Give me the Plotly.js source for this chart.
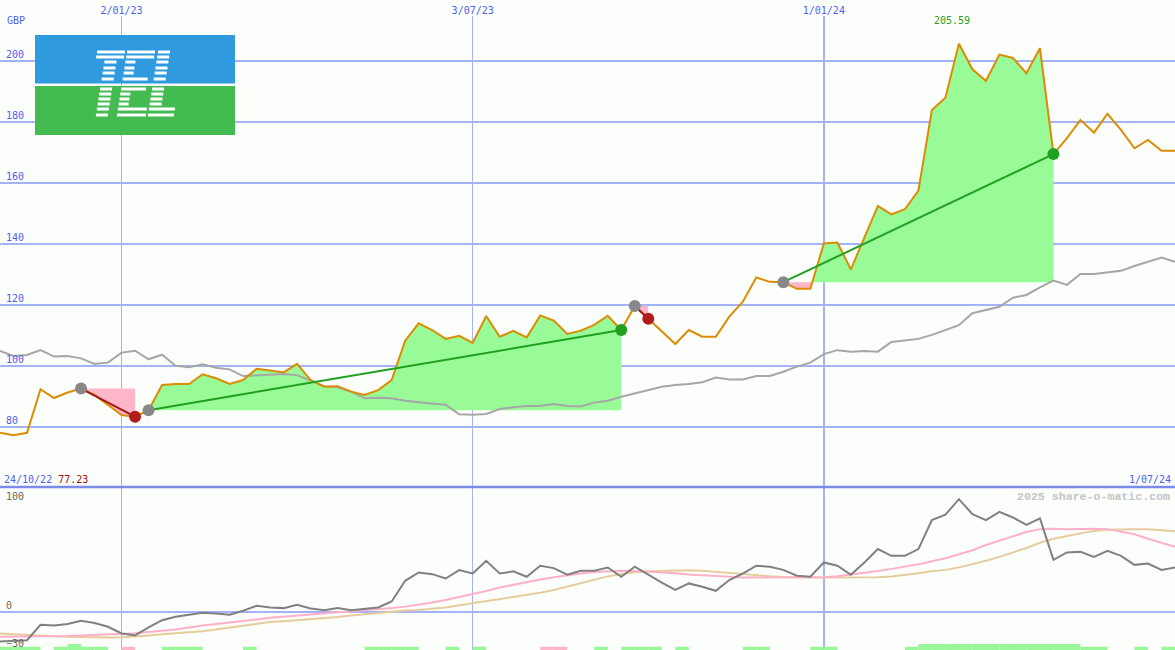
<!DOCTYPE html>
<html><head><meta charset="utf-8">
<script src="https://cdn.plot.ly/plotly-3.0.1.min.js"></script>
<style>html,body{margin:0;padding:0;background:#fcfefc}</style>
</head><body><div id="chart" style="width:1175px;height:650px"></div>
<script>
// ---------- DATA ----------
const weeks = ['2022-10-31','2022-11-07','2022-11-14','2022-11-21','2022-11-28','2022-12-05','2022-12-12','2022-12-19','2022-12-26',
'2023-01-02','2023-01-09','2023-01-16','2023-01-23','2023-01-30','2023-02-06','2023-02-13','2023-02-20','2023-02-27',
'2023-03-06','2023-03-13','2023-03-20','2023-03-27','2023-04-03','2023-04-10','2023-04-17','2023-04-24',
'2023-05-01','2023-05-08','2023-05-15','2023-05-22','2023-05-29','2023-06-05','2023-06-12','2023-06-19','2023-06-26',
'2023-07-03','2023-07-10','2023-07-17','2023-07-24','2023-07-31','2023-08-07','2023-08-14','2023-08-21','2023-08-28',
'2023-09-04','2023-09-11','2023-09-18','2023-09-25','2023-10-02','2023-10-09','2023-10-16','2023-10-23','2023-10-30',
'2023-11-06','2023-11-13','2023-11-20','2023-11-27','2023-12-04','2023-12-11','2023-12-18','2023-12-25',
'2024-01-01','2024-01-08','2024-01-15','2024-01-22','2024-01-29','2024-02-05','2024-02-12','2024-02-19','2024-02-26',
'2024-03-04','2024-03-11','2024-03-18','2024-03-25','2024-04-01','2024-04-08','2024-04-15','2024-04-22','2024-04-29',
'2024-05-06','2024-05-13','2024-05-20','2024-05-27','2024-06-03','2024-06-10','2024-06-17','2024-06-24','2024-07-01'];

const price = [78.0,77.23,78.0,92.3,89.4,91.2,92.5,90.4,87.1,83.8,83.3,85.4,93.7,94.0,94.0,97.2,95.9,94.0,95.3,99.0,
98.4,97.8,100.6,95.3,93.1,93.3,91.5,90.4,92.0,95.3,108.2,113.9,111.7,108.8,109.8,107.5,116.3,109.5,111.4,109.3,
116.5,114.8,110.4,111.5,113.4,116.4,111.7,119.6,115.4,111.2,107.1,111.7,109.5,109.5,116.1,121.0,128.9,127.5,127.4,125.2,
125.2,140.1,140.4,131.6,142.0,152.4,149.6,151.3,157.4,183.8,187.9,205.59,197.2,193.4,202.0,200.9,195.9,204.1,169.4,174.6,
180.6,176.4,182.6,177.3,171.3,174.0,170.5,170.5];

const benchmark = [104.8,103.2,103.5,105.1,103.0,103.2,102.4,100.6,101.0,104.3,104.9,102.1,103.6,100.0,99.5,100.5,99.3,98.8,96.6,96.9,
97.2,97.3,96.9,95.1,93.3,92.9,91.5,89.3,89.5,89.3,88.5,88.0,87.5,87.2,84.1,83.9,84.2,85.8,86.4,86.8,
86.8,87.4,86.8,86.6,87.9,88.5,89.8,90.9,92.0,93.1,93.7,94.0,94.6,96.1,95.5,95.5,96.6,96.6,98.0,99.7,
101.0,103.8,105.1,104.6,104.8,104.6,107.8,108.4,108.8,110.1,111.7,113.3,117.2,118.2,119.3,122.3,123.2,125.7,127.9,126.5,
130.1,130.1,130.5,131.1,132.7,134.1,135.5,134.1];

const oscillator = [-23.2,-22.9,-22.2,-9.9,-10.4,-9.3,-6.7,-8.5,-11.5,-16.8,-18.4,-12.0,-6.2,-3.5,-1.9,-0.3,-0.9,-1.9,1.3,5.3,
3.9,3.4,6.0,3.1,1.8,3.4,1.8,3.1,3.9,8.7,25.2,31.8,30.5,27.0,33.7,31.0,41.1,31.0,32.7,28.4,
37.2,35.3,30.0,33.2,33.2,35.8,28.4,36.4,29.8,23.8,18.0,23.1,20.4,17.2,25.8,31.0,37.2,36.4,33.9,29.2,
28.4,39.8,37.2,30.0,39.8,50.5,45.1,45.1,50.5,73.6,77.9,90.3,78.4,73.6,80.2,75.7,69.8,74.9,41.9,47.8,
48.3,44.3,49.1,45.1,37.9,39.0,33.9,35.8];

const oscFast = [-19.5,-19.5,-19.5,-19.3,-19.1,-18.9,-18.5,-18.1,-17.6,-17.2,-16.6,-15.7,-14.9,-13.6,-12.1,-10.4,-9.3,-8.3,-7.1,-5.7,
-4.3,-3.5,-2.8,-1.7,-0.6,0.2,0.9,1.7,2.5,3.4,4.6,6.1,7.8,9.8,12.0,14.3,17.0,19.8,22.1,24.3,
26.3,28.1,29.8,31.0,32.3,33.0,33.2,33.0,32.6,32.0,31.2,30.3,29.6,28.8,28.1,27.8,27.8,27.8,27.8,27.8,
27.8,28.1,28.8,30.1,31.6,33.0,34.7,36.3,38.3,40.7,43.2,46.4,49.6,53.7,57.3,60.9,64.1,66.4,66.8,66.4,
66.7,66.8,66.4,64.6,62.3,58.7,55.5,52.3];

const oscSlow = [-16.8,-17.5,-18.2,-18.6,-19.1,-19.4,-19.7,-19.9,-20.0,-19.8,-19.3,-18.4,-17.5,-16.8,-15.9,-15.0,-13.6,-12.2,-10.7,-9.2,
-7.7,-7.0,-6.3,-5.4,-4.6,-3.6,-2.5,-1.5,-0.4,0.7,1.5,2.0,2.7,3.9,5.6,7.2,8.8,10.6,12.1,13.8,
15.6,17.9,20.7,23.5,26.5,28.7,30.7,32.1,32.8,33.2,33.5,33.7,33.2,32.3,31.2,30.3,29.4,28.8,28.3,28.0,
27.8,27.8,27.8,27.8,28.0,28.0,28.7,29.8,31.2,32.8,33.9,35.9,38.3,41.2,44.3,47.8,51.4,55.5,58.7,61.0,
63.0,65.0,65.9,66.3,66.4,66.4,65.8,64.7];

const signalUp = [2.6,2.6,2.6,0,2.6,4.8,2.6,2.6,0,0,0,0,2.6,2.6,2.6,0,0,0,2.6,0,
0,0,0,0,0,0,0,2.6,2.6,2.6,2.6,0,0,2.6,0,2.6,0,0,0,0,
0,0,0,0,2.6,0,2.6,2.6,2.6,0,2.6,0,0,0,0,2.6,2.6,0,0,0,
2.6,2.6,0,0,0,0,0,2.6,4.8,4.8,4.8,4.8,4.8,4.8,4.8,4.8,4.8,4.8,4.8,4.8,
2.6,2.6,0,0,2.6,0,2.6,0];
const signalDown = [0,0,0,0,0,0,0,0,0,2.6,0,0,0,0,0,0,0,0,0,0,
0,0,0,0,0,0,0,0,0,0,0,0,0,0,0,0,0,0,0,0,
2.6,2.6,0,0,0,0,0,0,0,0,0,0,0,0,0,0,0,0,0,0,
0,0,0,0,0,0,0,0,0,0,0,0,0,0,0,0,0,0,0,0,
0,0,0,0,0,0,0,0];

const tradeEntry = [6, 11, 47, 58];
const tradeExit  = [10, 46, 48, 78];

const xTickDates = ['2023-01-02','2023-07-03','2024-01-01'];
const xTickText  = ['2/01/23','3/07/23','1/01/24'];
const priceTicks = [80,100,120,140,160,180,200];
const oscTicksLow = [-30, 0];
const oscTickHigh = [100];
const currency = 'GBP';
const startLabel = '24/10/22', startPriceText = '77.23', endLabel = '1/07/24';
const watermark = '2025 share-o-matic.com';

// ---------- STYLE ----------
const BG = '#fcfefc';
const GRID = '#a3b3f3';
const LABEL = '#4d5ff0';
const FONT = 'DejaVu Sans Mono, monospace';
const W = 1175, H = 650;
const px = v => v / W, py = v => 1 - v / H;
const splitY = py(487), topY = py(16);

const tms = weeks.map(d => Date.parse(d + 'T00:00:00Z'));
const traces = [];

// trade fills (green above entry level, pink below)
tradeEntry.forEach((i0, n) => {
  const i1 = tradeExit[n];
  const E = price[i0];
  const xs = [], up = [], dn = [];
  for (let i = i0; i <= i1; i++) {
    if (i > i0) {
      const a = price[i-1] - E, b = price[i] - E;
      if (a * b < 0) {
        const f = a / (a - b);
        xs.push(tms[i-1] + f * (tms[i] - tms[i-1])); up.push(E); dn.push(E);
      }
    }
    xs.push(tms[i]); up.push(Math.max(price[i], E)); dn.push(Math.min(price[i], E));
  }
  const base = xs.map(() => E);
  const common = {type:'scatter', mode:'lines', line:{width:0}, hoverinfo:'skip', xaxis:'x', yaxis:'y'};
  traces.push(Object.assign({}, common, {x:xs, y:base}));
  traces.push(Object.assign({}, common, {x:xs, y:up, fill:'tonexty', fillcolor:'#98fb98'}));
  traces.push(Object.assign({}, common, {x:xs, y:base}));
  traces.push(Object.assign({}, common, {x:xs, y:dn, fill:'tonexty', fillcolor:'#ffb6c8'}));
});

traces.push({type:'scatter', mode:'lines', x:weeks, y:benchmark, line:{color:'#a6a6a6', width:2}, hoverinfo:'skip'});
traces.push({type:'scatter', mode:'lines', x:weeks, y:price, line:{color:'#dc8c00', width:2}, hoverinfo:'skip'});

tradeEntry.forEach((i0, n) => {
  const i1 = tradeExit[n];
  const win = price[i1] >= price[i0];
  traces.push({type:'scatter', mode:'lines', x:[weeks[i0], weeks[i1]], y:[price[i0], price[i1]],
    line:{color: win ? '#20a020' : '#a01818', width:2}, hoverinfo:'skip'});
});
traces.push({type:'scatter', mode:'markers', x:tradeEntry.map(i => weeks[i]), y:tradeEntry.map(i => price[i]),
  marker:{color:'#888888', size:12}, hoverinfo:'skip'});
traces.push({type:'scatter', mode:'markers', x:tradeExit.map(i => weeks[i]), y:tradeExit.map(i => price[i]),
  marker:{color:tradeExit.map((i, n) => price[i] >= price[tradeEntry[n]] ? '#22a022' : '#b01c1c'), size:12}, hoverinfo:'skip'});

// lower panel
const WEEK_MS = 7 * 86400000;
traces.push({type:'bar', x:weeks, y:signalUp, base:-30, offset:0, width:WEEK_MS, marker:{color:'#98f898', line:{width:0}}, yaxis:'y2', hoverinfo:'skip'});
traces.push({type:'bar', x:weeks, y:signalDown, base:-30, offset:0, width:WEEK_MS, marker:{color:'#ffb6c8', line:{width:0}}, yaxis:'y2', hoverinfo:'skip'});
traces.push({type:'scatter', mode:'lines', x:weeks, y:oscSlow, line:{color:'#e6cc9c', width:2}, yaxis:'y2', hoverinfo:'skip'});
traces.push({type:'scatter', mode:'lines', x:weeks, y:oscFast, line:{color:'#ffb0c8', width:2}, yaxis:'y2', hoverinfo:'skip'});
traces.push({type:'scatter', mode:'lines', x:weeks, y:oscillator, line:{color:'#808080', width:2}, yaxis:'y2', hoverinfo:'skip'});
traces.push({type:'scatter', mode:'markers', x:[weeks[0]], y:[oscTickHigh[0]], marker:{opacity:0}, yaxis:'y3', hoverinfo:'skip'});

let maxI = 0; price.forEach((v, i) => { if (v > price[maxI]) maxI = i; });

// ---------- LOGO (striped TEL on blue/green panel) ----------
const logoRowsY = [52,57,62,68,73,79,89,94,99,104,109,115];
const logoSegs = [
  [0,1,97,125],[2,11,106,118],                                     // T
  [0,1,127,155],[2,4,127,137],[5,6,127,152],[7,9,127,137],[10,11,127,156], // E
  [0,9,158,170],[10,11,158,184]                                     // L
];
const logoShapes = [
  {type:'rect', xref:'paper', yref:'paper', x0:px(35), x1:px(235), y0:py(83.5), y1:py(35), fillcolor:'#2f9ade', line:{width:0}, layer:'above'},
  {type:'rect', xref:'paper', yref:'paper', x0:px(35), x1:px(235), y0:py(135), y1:py(86), fillcolor:'#44bb50', line:{width:0}, layer:'above'}
];
logoSegs.forEach(([r0, r1, a, b]) => {
  for (let r = r0; r <= r1; r++) {
    const y = logoRowsY[r], s = -(y - 52) * 0.16;
    logoShapes.push({type:'rect', xref:'paper', yref:'paper', x0:px(a + s), x1:px(b + s), y0:py(y + 1.5), y1:py(y - 1.5),
      fillcolor:'#ffffff', line:{width:0}, layer:'above'});
  }
});

const layout = {
  width:W, height:H, margin:{l:0, r:0, t:0, b:0}, paper_bgcolor:BG, plot_bgcolor:BG,
  showlegend:false, barmode:'overlay',
  xaxis:{type:'date', range:[weeks[0], weeks[weeks.length-1]], tickvals:xTickDates, ticktext:xTickText,
    side:'top', anchor:'free', position:topY, showgrid:true, gridcolor:GRID, gridwidth:1.5, zeroline:false,
    showline:false, ticks:'', tickfont:{family:FONT, size:10, color:LABEL}, fixedrange:true},
  yaxis:{domain:[splitY, topY], range:[60.23, 214.66], tickvals:priceTicks, showgrid:true, gridcolor:GRID, gridwidth:2,
    zeroline:false, showline:false, ticks:'', ticklabelposition:'inside', ticklabeloverflow:'allow', ticklabelshift:-6, ticklabelstandoff:3,
    tickfont:{family:FONT, size:10, color:LABEL}, fixedrange:true},
  yaxis2:{domain:[0, splitY], range:[-30, 100], tickvals:oscTicksLow, showgrid:false, zeroline:true, zerolinecolor:GRID, zerolinewidth:2,
    showline:false, ticks:'', ticklabelposition:'inside', ticklabeloverflow:'allow', ticklabelshift:-7, ticklabelstandoff:3,
    tickfont:{family:FONT, size:10, color:'#666666'}, fixedrange:true},
  yaxis3:{overlaying:'y2', range:[-30, 100], tickvals:oscTickHigh, showgrid:false, zeroline:false, showline:false, ticks:'',
    ticklabelposition:'inside', ticklabeloverflow:'allow', ticklabelshift:9, ticklabelstandoff:3,
    tickfont:{family:FONT, size:10, color:'#666666'}, fixedrange:true},
  shapes:[
    {type:'line', xref:'paper', yref:'paper', x0:0, x1:1, y0:splitY, y1:splitY, line:{color:'#7b8bea', width:2.5}, layer:'above'}
  ].concat(logoShapes),
  annotations:[
    {xref:'paper', yref:'paper', x:px(5), y:py(20), xanchor:'left', yanchor:'middle', showarrow:false, text:currency,
      font:{family:FONT, size:10, color:LABEL}},
    {xref:'paper', yref:'paper', x:px(2), y:py(479), xanchor:'left', yanchor:'middle', showarrow:false,
      text:startLabel + ' <span style="color:#a01010">' + startPriceText + '</span>', font:{family:FONT, size:10, color:LABEL}},
    {xref:'paper', yref:'paper', x:px(1173), y:py(479), xanchor:'right', yanchor:'middle', showarrow:false, text:endLabel,
      font:{family:FONT, size:10, color:LABEL}},
    {xref:'x', yref:'paper', x:weeks[maxI], y:py(21), xanchor:'center', yanchor:'middle', xshift:-7, showarrow:false,
      text:price[maxI].toFixed(2), font:{family:FONT, size:10, color:'#22a022'}},
    {xref:'paper', yref:'paper', x:px(1172), y:py(496), xanchor:'right', yanchor:'middle', showarrow:false, text:watermark,
      font:{family:'Liberation Mono, monospace', size:11.6, color:'#c4c4c4', weight:'bold'}}
  ]
};

Plotly.newPlot('chart', traces, layout, {staticPlot:true, displayModeBar:false});
</script></body></html>
